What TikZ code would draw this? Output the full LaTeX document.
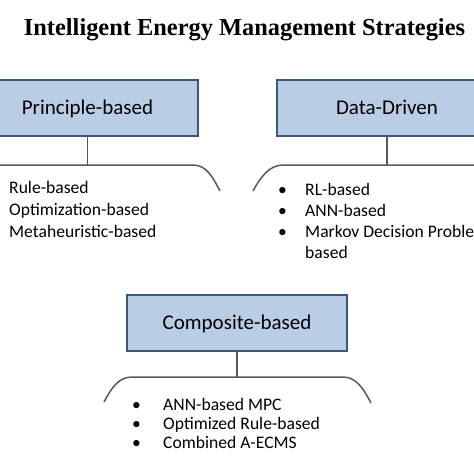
\documentclass[tikz,border=0pt]{standalone}
\usepackage{fontspec}
\setmainfont{Liberation Serif}
\newfontfamily\calibri{Carlito}
\usetikzlibrary{positioning}
\definecolor{boxfill}{RGB}{185,205,229}
\definecolor{boxline}{RGB}{62,86,120}
\definecolor{bracketgray}{RGB}{89,89,89}

\begin{document}
\begin{tikzpicture}
		[x=1pt,y=-1pt,
		group/.style={rectangle,draw=boxline,fill=boxfill,line width=2pt,inner sep=0pt,minimum width=220pt,minimum height=56pt,text height=13.5pt,text depth=0pt,font=\calibri\fontsize{21}{25}\selectfont},
		item/.style={anchor=base west,inner sep=0pt,font=\calibri\fontsize{17.6}{20}\selectfont},
		bracket/.style={draw=bracketgray,line width=1.5pt}]
		\useasboundingbox (0,0) rectangle (474,474);

		\node [anchor=base,font=\bfseries\fontsize{24.4}{28}\selectfont] (title) at (244.5,35) {Intelligent Energy Management Strategies};

		\node [group] (principle) at (87.5,107.5) {Principle-based};
		\node [group] (data) at (387,108) {Data-Driven};
		\node [group] (composite) at (237,323) {Composite-based};

		% brackets
		\coordinate (p-l) at (-5,165);
		\coordinate (p-r) at (193,165);
		\coordinate (p-end) at (220,191);
		\draw [bracket] (principle) -- (principle |- p-r);
		\draw [bracket] (p-l) -- (p-r) .. controls +(14,0) and +(-7,-13) .. (p-end);

		\coordinate (d-end) at (253,191);
		\coordinate (d-l) at (283,165);
		\coordinate (d-r) at (480,165);
		\draw [bracket] (data) -- (data |- d-l);
		\draw [bracket] (d-end) .. controls +(7,-13) and +(-14,0) .. (d-l) -- (d-r);

		\coordinate (c-lend) at (104,402);
		\coordinate (c-l) at (132,377);
		\coordinate (c-r) at (343,377);
		\coordinate (c-rend) at (371,403);
		\draw [bracket] (composite) -- (composite |- c-l);
		\draw [bracket] (c-lend) .. controls +(7,-13) and +(-14,0) .. (c-l) -- (c-r) .. controls +(14,0) and +(-7,-13) .. (c-rend);

		% lists
		\node [item] (p1) at (9,193) {Rule-based};
		\node [item] (p2) at (9,215) {Optimization-based};
		\node [item] (p3) at (9,237) {Metaheuristic-based};

		\foreach \txt [count=\i] in {RL-based,ANN-based,Markov Decision Proble}
		{
			\node [item] (db\i) at (278,174+21*\i) {\textbullet};
			\node [item] (d\i) at (305,174+21*\i) {\txt};
		}
		\node [item] (d4) at (305,258) {based};

		\foreach \txt [count=\i] in {ANN-based MPC,Optimized Rule-based,Combined A-ECMS}
		{
			\node [item] (cb\i) at (132,391+19*\i) {\textbullet};
			\node [item] (c\i) at (163,391+19*\i) {\txt};
		}
	\end{tikzpicture}
\end{document}
